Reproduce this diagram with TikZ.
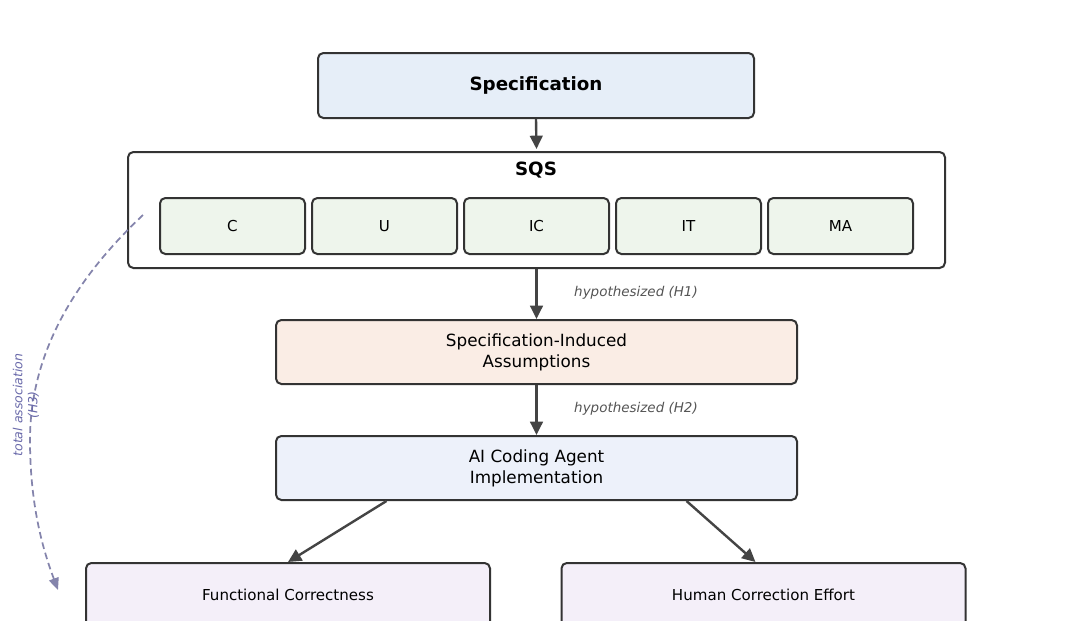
\documentclass[tikz,border=0pt]{standalone}
\usepackage{fontspec}
\setmainfont{DejaVu Sans}
\usetikzlibrary{arrows.meta,calc}
\definecolor{bordc}{HTML}{333333}
\definecolor{arrc}{HTML}{444444}
\definecolor{specfill}{HTML}{E6EEF8}
\definecolor{subfill}{HTML}{EEF5EC}
\definecolor{siafill}{HTML}{FAEDE5}
\definecolor{aifill}{HTML}{EDF1FA}
\definecolor{outfill}{HTML}{F4EFF9}
\definecolor{hypc}{HTML}{555555}
\definecolor{assocline}{HTML}{8484AC}
\definecolor{assoctext}{HTML}{6A6AAA}
\begin{document}
\begin{tikzpicture}[x=0.75pt,y=-0.75pt,
  box/.style={draw=bordc, line width=1.5pt, rounded corners=4pt, align=center, inner sep=0pt},
  subbox/.style={box, fill=subfill, minimum width=108.75pt, minimum height=42pt, font=\fontsize{11.3}{13.5}\selectfont},
  bigbox/.style={box, minimum width=390.75pt, minimum height=48pt, font=\fontsize{12.6}{15.75}\selectfont},
  outbox/.style={box, fill=outfill, minimum width=303pt, minimum height=48pt, font=\fontsize{11.3}{13.5}\selectfont},
  arr/.style={draw=arrc, line width=1.8pt, -{Triangle[length=10pt,width=9.5pt]}},
  hyp/.style={font=\fontsize{10.1}{12}\selectfont\itshape, text=hypc, right, inner sep=0pt}
]
\clip (0,0) rectangle (1072,621);
\fill[white] (0,0) rectangle (1072,621);

\node[box, fill=specfill, minimum width=327pt, minimum height=48.75pt, font=\fontsize{13.7}{16}\selectfont\bfseries] (spec) at (536,85.5) {Specification};

\node[box, fill=white, minimum width=612.75pt, minimum height=87pt] (sqs) at (536.5,210) {};
\node[font=\fontsize{13.7}{16}\selectfont\bfseries, inner sep=0pt] (sqstitle) at (536,170) {SQS};

\node[subbox] (c)  at (232.5,226) {C};
\node[subbox] (u)  at (384.5,226) {U};
\node[subbox] (ic) at (536.5,226) {IC};
\node[subbox] (it) at (688.5,226) {IT};
\node[subbox] (ma) at (840.5,226) {MA};

\node[bigbox, fill=siafill] (sia) at (536.5,352) {Specification-Induced\\Assumptions};
\node[bigbox, fill=aifill] (ai) at (536.5,468) {AI Coding Agent\\Implementation};

\node[outbox] (fc) at (288,595) {Functional Correctness};
\node[outbox] (hce) at (763.5,595) {Human Correction Effort};

\draw[arr] (spec.south) -- ([yshift=1.5pt]sqs.north);
\draw[arr] (sqs.south) -- (sia.north)
  node[hyp, pos=0.48, xshift=27.4pt] {hypothesized (H1)};
\draw[arr] (sia.south) -- (ai.north)
  node[hyp, pos=0.48, xshift=27.4pt] {hypothesized (H2)};
\draw[arr] ([xshift=-112.5pt]ai.south) -- (fc.north);
\draw[arr] ([xshift=112.5pt]ai.south) -- ([xshift=-6pt]hce.north);

\coordinate (hstart) at (143,215);
\coordinate (hend) at (58,590);
\draw[assocline, line width=1.3pt, dash pattern=on 5pt off 3pt, -{Triangle[length=9pt,width=7.5pt]}]
  (hstart) .. controls (90,265) and (30,340) .. (30,440) .. controls (30,510) and (45,555) .. (hend);
\node[rotate=90, text=assoctext, align=center, inner sep=0pt, font=\fontsize{9.4}{11.25}\selectfont\itshape] (h3) at (26,405) {total association\\(H3)};
\end{tikzpicture}
\end{document}
